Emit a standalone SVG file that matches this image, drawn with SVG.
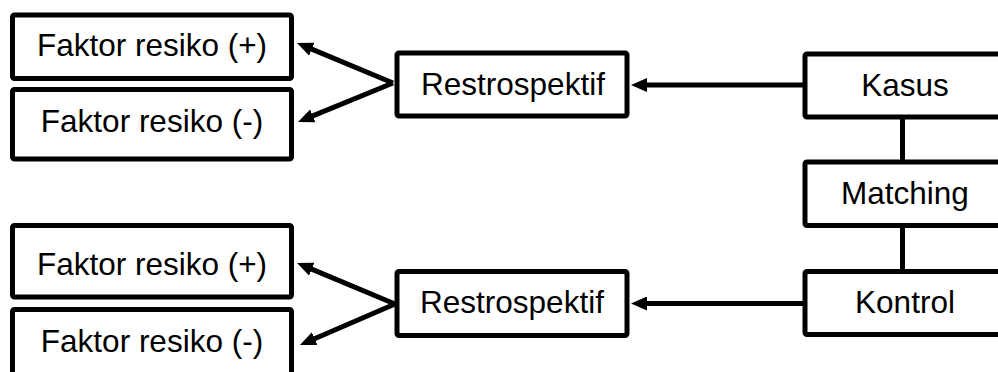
<svg xmlns="http://www.w3.org/2000/svg" width="998" height="372" viewBox="0 0 998 372">
<style>
.box{fill:#fff;stroke:#000;stroke-width:5;stroke-linejoin:round}
.lbl{font-family:"Liberation Sans",Arial,sans-serif;font-size:31.5px;fill:#000;text-anchor:middle}
.ln{stroke:#000;stroke-width:5;fill:none}
</style>
<defs>
<marker id="ah" viewBox="0 0 16 14" markerWidth="16" markerHeight="14" markerUnits="userSpaceOnUse" refX="4" refY="7" orient="auto">
<path d="M0,0 L16,7 L0,14 z" fill="#000"/>
</marker>
</defs>
<rect width="998" height="372" fill="#fff"/>
<g id="connectors">
<line class="ln" x1="393" y1="83" x2="308.1" y2="47.6" marker-end="url(#ah)"/>
<line class="ln" x1="393" y1="83" x2="309.1" y2="117.4" marker-end="url(#ah)"/>
<line class="ln" x1="395" y1="304" x2="308.1" y2="267.6" marker-end="url(#ah)"/>
<line class="ln" x1="395" y1="304" x2="311" y2="340.2" marker-end="url(#ah)"/>
<line class="ln" x1="805" y1="85" x2="643" y2="85" marker-end="url(#ah)"/>
<line class="ln" x1="805" y1="303.5" x2="643" y2="303.5" marker-end="url(#ah)"/>
<line class="ln" x1="902.5" y1="117" x2="902.5" y2="162"/>
<line class="ln" x1="902.5" y1="225.5" x2="902.5" y2="271.5"/>
</g>
<g id="faktor1"><rect class="box" x="12.5" y="15" width="279" height="63.5" rx="2"/><text class="lbl" x="152" y="56">Faktor resiko (+)</text></g>
<g id="faktor2"><rect class="box" x="12.5" y="89.5" width="279" height="69.5" rx="2"/><text class="lbl" x="152" y="132">Faktor resiko (-)</text></g>
<g id="faktor3"><rect class="box" x="12.5" y="225.5" width="279" height="71.5" rx="2"/><text class="lbl" x="152" y="275">Faktor resiko (+)</text></g>
<g id="faktor4"><rect class="box" x="12.5" y="309.5" width="279" height="80" rx="2"/><text class="lbl" x="152" y="352">Faktor resiko (-)</text></g>
<g id="retro1"><rect class="box" x="397" y="53" width="230" height="63" rx="2"/><text class="lbl" x="513" y="95">Restrospektif</text></g>
<g id="retro2"><rect class="box" x="397" y="271.5" width="230" height="64" rx="2"/><text class="lbl" x="512" y="313">Restrospektif</text></g>
<g id="kasus"><rect class="box" x="805" y="54" width="205" height="63" rx="2"/><text class="lbl" x="905" y="96">Kasus</text></g>
<g id="matching"><rect class="box" x="805" y="162" width="205" height="63.5" rx="2"/><text class="lbl" x="905" y="204">Matching</text></g>
<g id="kontrol"><rect class="box" x="805" y="271.5" width="205" height="63" rx="2"/><text class="lbl" x="905" y="313">Kontrol</text></g>
</svg>
